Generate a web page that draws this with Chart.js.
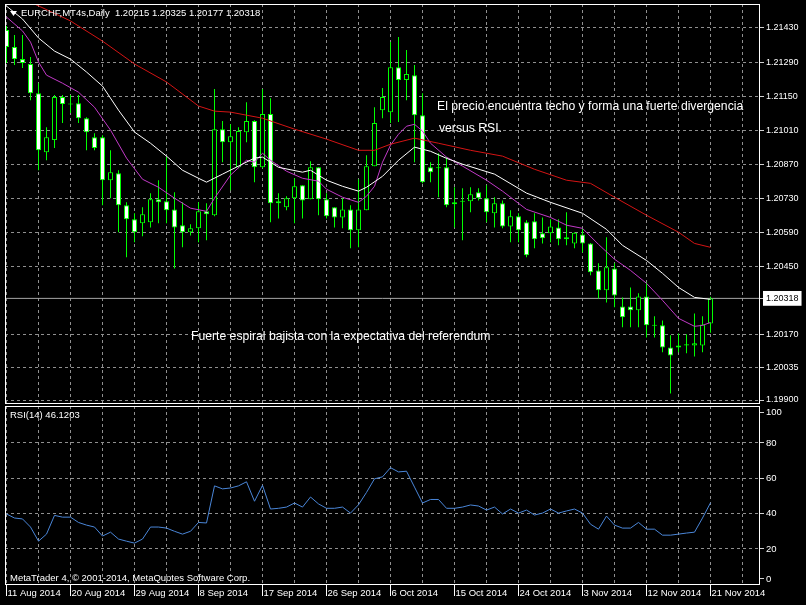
<!DOCTYPE html>
<html lang="es">
<head>
<meta charset="UTF-8">
<title>EURCHF Daily - MetaTrader 4</title>
<script src="https://cdn.jsdelivr.net/npm/chart.js"></script>
<style>
  html, body { margin: 0; padding: 0; background: #000; }
  body { width: 806px; height: 605px; position: relative; overflow: hidden; }
  #priceChart { position: absolute; left: 0; top: 0; }
  #rsiChart { position: absolute; left: 0; top: 405px; }
</style>
</head>
<body>
<canvas id="priceChart" width="806" height="405"></canvas>
<canvas id="rsiChart" width="806" height="200"></canvas>
<script>
// ---- data (one entry per daily bar, 11 Aug 2014 .. 21 Nov 2014, Sunday bars included) ----
const opens = [
  1.21422, 1.21352, 1.21302, 1.21282, 1.21162, 1.20919, 1.20969, 1.21146, 1.21117, 1.21121,
  1.21059, 1.20981, 1.20981, 1.20804, 1.20833, 1.20701, 1.20643, 1.20627, 1.20631, 1.20726,
  1.20717, 1.20684, 1.20619, 1.20590, 1.20606, 1.20676, 1.20660, 1.21014, 1.20960, 1.20857,
  1.21001, 1.21047, 1.20857, 1.21076, 1.20717, 1.20693, 1.20730, 1.20783, 1.20726, 1.20857,
  1.20726, 1.20693, 1.20651, 1.20684, 1.20598, 1.20680, 1.20861, 1.21092, 1.21084, 1.21269,
  1.21216, 1.21236, 1.21071, 1.20857, 1.20857, 1.20857, 1.20713, 1.20717, 1.20717, 1.20754,
  1.20730, 1.20668, 1.20709, 1.20614, 1.20656, 1.20631, 1.20635, 1.20586, 1.20586, 1.20610,
  1.20569, 1.20544, 1.20581, 1.20544, 1.20433, 1.20351, 1.20441, 1.20285, 1.20285, 1.20269,
  1.20326, 1.20207, 1.20207, 1.20116, 1.20116, 1.20124, 1.20124, 1.20124, 1.20215
];
const highs = [
  1.21438, 1.21401, 1.21401, 1.21311, 1.21203, 1.21022, 1.21154, 1.21154, 1.21154, 1.21154,
  1.21063, 1.20997, 1.20989, 1.20927, 1.20845, 1.20713, 1.20668, 1.20693, 1.20750, 1.20804,
  1.20899, 1.20754, 1.20713, 1.20623, 1.20713, 1.20709, 1.21179, 1.21047, 1.21034, 1.21022,
  1.21125, 1.21051, 1.21179, 1.21141, 1.20750, 1.20738, 1.20812, 1.20783, 1.20882, 1.20857,
  1.20750, 1.20693, 1.20730, 1.20701, 1.20808, 1.20907, 1.21104, 1.21183, 1.21372, 1.21393,
  1.21339, 1.21278, 1.21162, 1.20878, 1.20915, 1.20899, 1.20775, 1.20771, 1.20775, 1.20771,
  1.20783, 1.20734, 1.20721, 1.20680, 1.20668, 1.20639, 1.20668, 1.20651, 1.20643, 1.20643,
  1.20672, 1.20590, 1.20606, 1.20546, 1.20462, 1.20569, 1.20462, 1.20322, 1.20363, 1.20339,
  1.20384, 1.20244, 1.20227, 1.20166, 1.20174, 1.20170, 1.20256, 1.20244, 1.20325
];
const lows = [
  1.21286, 1.21278, 1.21265, 1.21133, 1.20845, 1.20886, 1.20936, 1.21039, 1.21080, 1.21039,
  1.20927, 1.20927, 1.20701, 1.20730, 1.20590, 1.20487, 1.20549, 1.20573, 1.20610, 1.20627,
  1.20627, 1.20441, 1.20528, 1.20577, 1.20549, 1.20557, 1.20656, 1.20878, 1.20763, 1.20853,
  1.20960, 1.20796, 1.20853, 1.20631, 1.20647, 1.20680, 1.20627, 1.20647, 1.20726, 1.20660,
  1.20647, 1.20610, 1.20606, 1.20524, 1.20528, 1.20680, 1.20861, 1.21059, 1.21039, 1.21043,
  1.21133, 1.20878, 1.20791, 1.20796, 1.20734, 1.20693, 1.20610, 1.20557, 1.20672, 1.20721,
  1.20631, 1.20610, 1.20606, 1.20549, 1.20549, 1.20487, 1.20524, 1.20544, 1.20549, 1.20536,
  1.20536, 1.20524, 1.20507, 1.20413, 1.20318, 1.20301, 1.20281, 1.20199, 1.20199, 1.20199,
  1.20157, 1.20157, 1.20096, 1.19927, 1.20096, 1.20092, 1.20079, 1.20096, 1.20177
];
const closes = [
  1.21352, 1.21302, 1.21286, 1.21162, 1.20927, 1.20981, 1.21146, 1.21117, 1.21115, 1.21059,
  1.21001, 1.20936, 1.20804, 1.20837, 1.20701, 1.20643, 1.20590, 1.20664, 1.20726, 1.20713,
  1.20680, 1.20610, 1.20590, 1.20606, 1.20676, 1.20664, 1.21014, 1.20960, 1.20985, 1.21006,
  1.21047, 1.20857, 1.21076, 1.20709, 1.20709, 1.20730, 1.20779, 1.20721, 1.20857, 1.20726,
  1.20656, 1.20651, 1.20684, 1.20598, 1.20684, 1.20861, 1.21039, 1.21146, 1.21269, 1.21216,
  1.21241, 1.21071, 1.20796, 1.20837, 1.20853, 1.20701, 1.20705, 1.20715, 1.20746, 1.20730,
  1.20672, 1.20709, 1.20614, 1.20656, 1.20598, 1.20495, 1.20561, 1.20565, 1.20614, 1.20561,
  1.20561, 1.20588, 1.20544, 1.20425, 1.20351, 1.20446, 1.20330, 1.20240, 1.20269, 1.20326,
  1.20207, 1.20205, 1.20116, 1.20083, 1.20124, 1.20129, 1.20133, 1.20211, 1.20318
];

// moving averages, read at sampled bars: [bar, price]
const maSlowPts = [
  [0, 1.21580], [4, 1.21521], [8, 1.21459], [12, 1.21376], [16, 1.21282], [20, 1.21208],
  [24, 1.21109], [26, 1.21088], [28, 1.21084], [32, 1.21059], [36, 1.21014], [40, 1.20973],
  [44, 1.20927], [46, 1.20927], [48, 1.20952], [51, 1.20977], [54, 1.20956], [58, 1.20927],
  [62, 1.20903], [66, 1.20849], [70, 1.20804], [73, 1.20791], [76, 1.20734], [80, 1.20660],
  [84, 1.20590], [86, 1.20544], [88, 1.20528]
];
const maMidPts = [
  [0, 1.21520], [2, 1.21467], [4, 1.21389], [6, 1.21335], [8, 1.21302], [10, 1.21249],
  [12, 1.21191], [14, 1.21092], [16, 1.21002], [18, 1.20956], [20, 1.20903], [22, 1.20845],
  [24, 1.20812], [25, 1.20796], [27, 1.20829], [29, 1.20862], [31, 1.20895], [32, 1.20899],
  [34, 1.20857], [37, 1.20837], [38, 1.20845], [40, 1.20804], [42, 1.20779], [44, 1.20759],
  [45, 1.20775], [47, 1.20820], [49, 1.20886], [51, 1.20940], [53, 1.20923], [55, 1.20894],
  [57, 1.20870], [61, 1.20829], [65, 1.20751], [68, 1.20713], [72, 1.20668], [75, 1.20602],
  [77, 1.20536], [80, 1.20474], [82, 1.20421], [84, 1.20363], [86, 1.20322], [88, 1.20314]
];
const maFastPts = [
  [0, 1.21475], [2, 1.21418], [3, 1.21372], [4, 1.21290], [5, 1.21236], [7, 1.21203],
  [9, 1.21166], [11, 1.21104], [13, 1.21010], [15, 1.20895], [17, 1.20808], [19, 1.20775],
  [21, 1.20730], [23, 1.20689], [25, 1.20676], [26, 1.20730], [28, 1.20825], [30, 1.20886],
  [31, 1.20878], [32, 1.20915], [33, 1.20886], [35, 1.20841], [37, 1.20812], [39, 1.20800],
  [40, 1.20767], [42, 1.20734], [44, 1.20713], [45, 1.20738], [46, 1.20779], [47, 1.20878],
  [48, 1.20948], [49, 1.20993], [50, 1.21026], [51, 1.21034], [52, 1.21006], [53, 1.20956],
  [55, 1.20899], [57, 1.20862], [60, 1.20804], [62, 1.20759], [65, 1.20684], [68, 1.20651],
  [70, 1.20619], [72, 1.20606], [74, 1.20540], [76, 1.20479], [78, 1.20433], [80, 1.20380],
  [82, 1.20310], [84, 1.20236], [86, 1.20203], [87, 1.20207], [88, 1.20219]
];

const rsi = [
  39.8, 37.5, 37.0, 32.4, 24.4, 28.4, 39.0, 38.0, 38.0, 35.0,
  33.5, 32.4, 27.3, 29.5, 25.6, 24.4, 23.3, 25.6, 32.4, 32.4,
  31.8, 30.0, 28.4, 30.0, 35.0, 34.7, 55.7, 54.0, 54.5, 55.7,
  58.0, 47.0, 56.0, 42.6, 43.0, 43.7, 46.0, 43.7, 49.4, 45.5,
  43.0, 43.0, 43.7, 40.3, 45.0, 52.0, 59.7, 60.8, 66.0, 63.6,
  64.0, 55.0, 46.0, 48.0, 48.0, 43.0, 43.0, 43.7, 44.9, 44.3,
  42.0, 43.7, 39.8, 42.6, 40.3, 42.0, 39.2, 40.3, 42.6, 40.3,
  41.5, 42.6, 40.3, 34.0, 31.2, 38.6, 33.5, 31.8, 31.8, 35.0,
  31.2, 31.2, 27.8, 27.8, 28.4, 29.0, 29.5, 37.5, 46.1203
];

// date labels, one every 8 bars starting at bar 0
const dateLabels = ['11 Aug 2014', '20 Aug 2014', '29 Aug 2014', '8 Sep 2014', '17 Sep 2014', '26 Sep 2014',
  '6 Oct 2014', '15 Oct 2014', '24 Oct 2014', '3 Nov 2014', '12 Nov 2014', '21 Nov 2014'];
const priceTicks = [1.21430, 1.21290, 1.21150, 1.21010, 1.20870, 1.20730, 1.20590, 1.20450, 1.20170, 1.20035, 1.19900];
const rsiTickValues = [3, 20, 40, 60, 80, 97.5];
const rsiTickLabels = ['0', '20', '40', '60', '80', '100'];

// ---- chart setup ----
const FONT = "'Liberation Sans', Arial, sans-serif";
const GRID = '#8f8f8f';
const LIME = '#00ff00';
const X_MIN = -0.1875, X_MAX = 94.1875;
const lastClose = closes[closes.length - 1];
const bars = closes.map((c, i) => i);

// keep axis boxes at fixed sizes so both panes line up
function fixBox(size, horizontal) {
  return s => {
    if (horizontal) s.height = size; else s.width = size;
    s.paddingLeft = s.paddingRight = s.paddingTop = s.paddingBottom = 0;
  };
}

function xAxis(withLabels) {
  return {
    type: 'linear',
    min: X_MIN,
    max: X_MAX,
    offset: false,
    afterBuildTicks: s => {
      s.ticks = [];
      for (let v = 0; v <= 92; v += 4) s.ticks.push({ value: v });
    },
    afterFit: fixBox(withLabels ? 20 : 0, true),
    grid: {
      color: GRID,
      offset: false,
      drawTicks: withLabels,
      tickLength: 11,
      tickWidth: 1,
      tickBorderDash: [],
      tickColor: ctx => (ctx.tick && ctx.tick.value % 8 === 0) ? '#ffffff' : 'rgba(0,0,0,0)'
    },
    border: { display: false, dash: [3, 3] },
    ticks: {
      display: withLabels,
      autoSkip: false,
      maxRotation: 0,
      minRotation: 0,
      align: 'start',
      labelOffset: 1,
      padding: -8,
      color: '#ffffff',
      font: { family: FONT, size: 9.5 },
      callback: v => (v % 8 === 0 && dateLabels[v / 8]) ? dateLabels[v / 8] : ''
    }
  };
}

const framePlugin = {
  id: 'frame',
  afterDraw(chart) {
    const a = chart.chartArea, ctx = chart.ctx;
    ctx.save();
    ctx.strokeStyle = '#ffffff';
    ctx.lineWidth = 1;
    ctx.strokeRect(a.left + 0.5, a.top + 0.5, a.right - a.left - 1, a.bottom - a.top - 1);
    ctx.restore();
  }
};

function textPlugin(id, items, drawExtra) {
  return {
    id: id,
    afterDraw(chart) {
      const ctx = chart.ctx;
      ctx.save();
      ctx.fillStyle = '#ffffff';
      ctx.textBaseline = 'middle';
      items.forEach(t => {
        ctx.font = t.size + 'px ' + FONT;
        ctx.fillText(t.text, t.x, t.y);
      });
      if (drawExtra) drawExtra(ctx);
      ctx.restore();
    }
  };
}

const priceNotes = textPlugin('priceNotes', [
  { text: 'EURCHF,MT4s,Daily  ' + [opens, highs, lows, closes].map(a => a[a.length - 1].toFixed(5)).join(' '), x: 21, y: 13, size: 9.5 },
  { text: 'El precio encuentra techo y forma una fuerte divergencia', x: 437, y: 107, size: 12.2 },
  { text: 'versus RSI.', x: 439, y: 129, size: 12.2 },
  { text: 'Fuerte espiral bajista con la expectativa del referendum', x: 191, y: 337, size: 12.2 }
], ctx => {
  // small menu triangle in front of the symbol name
  ctx.beginPath();
  ctx.moveTo(10, 11); ctx.lineTo(17, 11); ctx.lineTo(13.5, 16); ctx.closePath();
  ctx.fill();
});

const rsiNotes = textPlugin('rsiNotes', [
  { text: 'RSI(14) ' + rsi[rsi.length - 1].toFixed(4), x: 10, y: 10, size: 9.5 },
  { text: 'MetaTrader 4, \u00a9 2001-2014, MetaQuotes Software Corp.', x: 10, y: 173, size: 9.5 }
]);

new Chart(document.getElementById('priceChart'), {
  type: 'bar',
  data: {
    datasets: [
      {
        type: 'line', label: 'MA slow', order: 0,
        data: maSlowPts.map(p => ({ x: p[0], y: p[1] })),
        borderColor: '#d41414', borderWidth: 1, pointRadius: 0, tension: 0
      },
      {
        type: 'line', label: 'MA mid', order: 0,
        data: maMidPts.map(p => ({ x: p[0], y: p[1] })),
        borderColor: '#ffffff', borderWidth: 1, pointRadius: 0, tension: 0
      },
      {
        type: 'line', label: 'MA fast', order: 0,
        data: maFastPts.map(p => ({ x: p[0], y: p[1] })),
        borderColor: '#c23ac8', borderWidth: 1, pointRadius: 0, tension: 0
      },
      {
        label: 'Body', order: 1,
        data: bars.map(i => ({ x: i, y: [opens[i], closes[i]] })),
        backgroundColor: bars.map(i => closes[i] < opens[i] ? '#ffffff' : '#000000'),
        borderColor: LIME, borderWidth: 1, borderSkipped: false,
        grouped: false, categoryPercentage: 1, barPercentage: 0.625, minBarLength: 1
      },
      {
        label: 'Wick', order: 2,
        data: bars.map(i => ({ x: i, y: [lows[i], highs[i]] })),
        backgroundColor: LIME, borderWidth: 0,
        grouped: false, categoryPercentage: 1, barPercentage: 0.125
      },
      {
        type: 'line', label: 'Bid', order: 3,
        data: [{ x: X_MIN, y: lastClose }, { x: X_MAX, y: lastClose }],
        borderColor: '#a6a6a6', borderWidth: 1, pointRadius: 0
      }
    ]
  },
  options: {
    responsive: false,
    animation: false,
    events: [],
    layout: { padding: { left: 5, top: 4, right: 0, bottom: 1 } },
    plugins: { legend: { display: false }, tooltip: { enabled: false } },
    scales: {
      x: xAxis(false),
      y: {
        position: 'right',
        min: 1.198836,
        max: 1.215287,
        afterBuildTicks: s => { s.ticks = priceTicks.concat([lastClose]).map(v => ({ value: v })); },
        afterFit: fixBox(46, false),
        grid: {
          color: ctx => (ctx.tick && ctx.tick.value === lastClose) ? 'rgba(0,0,0,0)' : GRID,
          tickLength: 4,
          tickBorderDash: [],
          tickColor: '#d0d0d0'
        },
        border: { display: false, dash: [3, 3] },
        ticks: {
          padding: 2,
          font: { family: FONT, size: 9 },
          color: ctx => (ctx.tick && ctx.tick.value === lastClose) ? '#000000' : '#ffffff',
          showLabelBackdrop: ctx => !!(ctx.tick && ctx.tick.value === lastClose),
          backdropColor: '#ffffff',
          backdropPadding: { x: 3, y: 2 },
          callback: v => v.toFixed(5)
        }
      }
    }
  },
  plugins: [framePlugin, priceNotes]
});

new Chart(document.getElementById('rsiChart'), {
  type: 'line',
  data: {
    datasets: [{
      label: 'RSI(14)',
      data: bars.map(i => ({ x: i, y: rsi[i] })),
      borderColor: '#4a86d8', borderWidth: 1, pointRadius: 0, tension: 0
    }]
  },
  options: {
    responsive: false,
    animation: false,
    events: [],
    layout: { padding: { left: 5, top: 1, right: 0, bottom: 0 } },
    plugins: { legend: { display: false }, tooltip: { enabled: false } },
    scales: {
      x: xAxis(true),
      y: {
        position: 'right',
        min: -0.4,
        max: 100.9,
        afterBuildTicks: s => { s.ticks = rsiTickValues.map(v => ({ value: v })); },
        afterFit: fixBox(46, false),
        grid: {
          color: ctx => (ctx.tick && (ctx.tick.value < 10 || ctx.tick.value > 90)) ? 'rgba(0,0,0,0)' : GRID,
          tickLength: 4,
          tickBorderDash: [],
          tickColor: '#d0d0d0'
        },
        border: { display: false, dash: [3, 3] },
        ticks: {
          padding: 2,
          color: '#ffffff',
          font: { family: FONT, size: 9.5 },
          callback: (v, i) => rsiTickLabels[i]
        }
      }
    }
  },
  plugins: [framePlugin, rsiNotes]
});
</script>
</body>
</html>
